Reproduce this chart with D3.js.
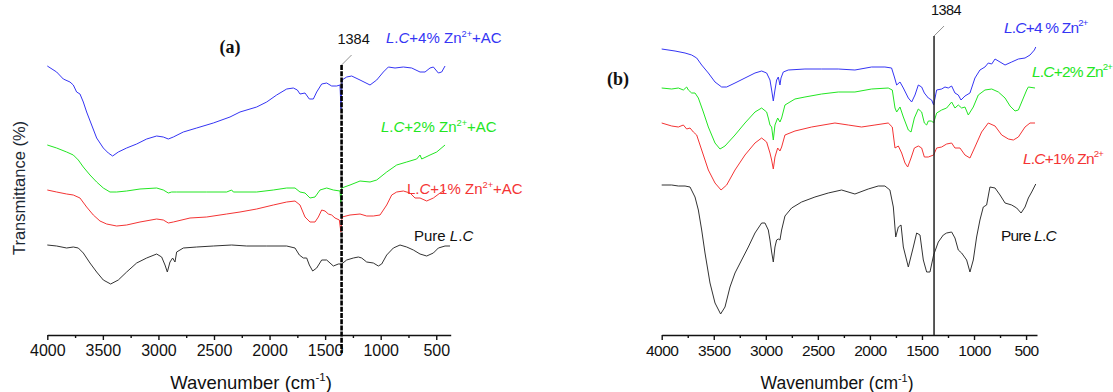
<!DOCTYPE html>
<html>
<head>
<meta charset="utf-8">
<script src="https://cdn.jsdelivr.net/npm/d3@7"></script>
<style>
  body { margin: 0; background: #fff; }
  svg { display: block; font-family: "Liberation Sans", Arial, sans-serif; }
</style>
</head>
<body>
<script>
// FTIR spectra, [wavenumber cm-1, transmittance (arbitrary, offset)]
// panel (a): with AC
const blueA = [[4000,269],[3916,263],[3856,256],[3796,253],[3766,250],[3736,243],[3706,241],[3676,233],[3646,223],[3601,210],[3556,197],[3496,187],[3451,182],[3412,179],[3361,183],[3286,187],[3196,191],[3106,196],[3016,199],[2956,198],[2911,196],[2866,198],[2776,203],[2656,207],[2506,212],[2356,218],[2266,223],[2116,228],[2026,233],[1936,240],[1846,246],[1786,247],[1750,245],[1726,241],[1681,242],[1642,236],[1606,236],[1576,243],[1531,251],[1486,252],[1441,249],[1396,249],[1366,250],[1357,226],[1348,255],[1306,258],[1261,259],[1186,255],[1096,250],[1036,255],[976,263],[931,268],[871,267],[796,268],[721,267],[646,263],[601,263],[556,267],[526,268],[481,262],[451,263],[421,269]];
const greenA = [[4000,190],[3916,187],[3826,183],[3766,180],[3721,175],[3676,168],[3616,160],[3556,153],[3496,147],[3436,143],[3376,143],[3286,144],[3166,146],[3016,147],[2956,145],[2911,142],[2881,143],[2836,143],[2716,143],[2566,143],[2386,143],[2341,145],[2326,143],[2266,143],[2116,143],[1966,145],[1846,147],[1771,147],[1726,143],[1681,142],[1636,137],[1591,138],[1546,145],[1486,147],[1426,145],[1366,144],[1358,132],[1351,147],[1276,150],[1186,154],[1096,153],[1036,155],[946,163],[856,170],[766,173],[676,176],[646,180],[631,176],[556,180],[496,183],[421,190]];
const redA = [[4000,145],[3916,143],[3826,141],[3766,140],[3706,137],[3646,128],[3586,120],[3526,114],[3466,111],[3376,109],[3286,110],[3166,113],[3016,116],[2956,115],[2911,112],[2866,113],[2716,117],[2566,118],[2386,121],[2266,123],[2116,126],[1966,130],[1846,133],[1771,134],[1726,130],[1681,118],[1636,113],[1591,113],[1561,118],[1531,125],[1501,124],[1471,121],[1441,120],[1411,117],[1372,115],[1358,103],[1348,118],[1276,120],[1186,121],[1126,119],[1066,119],[1006,120],[946,130],[901,140],[856,143],[796,144],[736,142],[691,137],[646,137],[586,134],[526,137],[466,142],[421,145]];
const blackA = [[4000,90],[3916,89],[3826,87],[3766,88],[3721,87],[3676,82],[3616,72],[3556,63],[3496,55],[3430,51],[3361,55],[3286,63],[3196,72],[3106,77],[3016,81],[2971,78],[2941,70],[2920,63],[2896,73],[2872,77],[2851,73],[2836,83],[2776,87],[2656,88],[2506,89],[2341,90],[2206,89],[2026,89],[1846,89],[1771,87],[1732,80],[1696,77],[1666,77],[1642,70],[1612,64],[1576,67],[1531,75],[1486,75],[1456,72],[1426,69],[1381,71],[1351,71],[1306,75],[1246,77],[1201,78],[1171,77],[1126,73],[1066,72],[1021,69],[991,71],[946,80],[886,87],[826,90],[766,88],[706,85],[646,81],[586,79],[526,82],[481,87],[421,89],[376,89]];

// panel (b): without AC
const blueB = [[4000,286],[3872,284],[3776,282],[3712,280],[3664,277],[3616,270],[3552,262],[3488,253],[3424,248],[3376,248],[3296,252],[3200,257],[3104,262],[3040,264],[2992,262],[2960,255],[2944,245],[2928,234],[2912,245],[2896,255],[2880,258],[2864,250],[2854,257],[2832,263],[2784,265],[2624,266],[2464,266],[2304,266],[2144,265],[1984,268],[1856,268],[1792,267],[1765,258],[1743,250],[1711,253],[1679,247],[1631,237],[1599,233],[1567,240],[1535,250],[1503,248],[1477,242],[1439,237],[1407,235],[1388,230],[1359,245],[1311,246],[1279,248],[1247,247],[1215,249],[1183,242],[1151,240],[1125,235],[1087,239],[1039,242],[991,257],[943,265],[895,268],[863,272],[830,271],[798,276],[750,273],[702,270],[638,273],[574,276],[510,277],[462,280],[420,285],[407,288]];
const greenB = [[4000,247],[3904,246],[3840,247],[3792,245],[3760,248],[3744,245],[3712,242],[3680,242],[3648,237],[3600,223],[3552,208],[3488,192],[3440,186],[3392,189],[3296,200],[3200,212],[3104,223],[3040,227],[2992,223],[2976,217],[2960,210],[2944,208],[2928,195],[2912,210],[2886,217],[2864,213],[2848,217],[2816,230],[2720,236],[2624,238],[2464,241],[2304,243],[2144,243],[1984,246],[1824,247],[1785,245],[1759,227],[1743,223],[1711,228],[1679,218],[1631,205],[1605,203],[1573,217],[1535,226],[1503,223],[1477,212],[1455,210],[1439,214],[1407,214],[1388,212],[1359,222],[1311,225],[1263,227],[1215,233],[1183,227],[1151,230],[1119,227],[1087,228],[1055,220],[1007,228],[959,240],[895,245],[830,246],[766,243],[702,237],[654,229],[606,224],[574,225],[542,233],[494,245],[478,248],[414,247]];
const redB = [[4000,212],[3904,209],[3840,208],[3792,210],[3760,206],[3728,207],[3696,203],[3664,200],[3616,185],[3552,165],[3488,152],[3430,145],[3376,150],[3296,165],[3200,180],[3104,192],[3040,197],[2992,193],[2960,182],[2944,175],[2928,166],[2912,178],[2886,187],[2864,184],[2848,188],[2816,200],[2720,204],[2560,208],[2336,212],[2208,210],[2080,208],[1952,210],[1824,212],[1785,208],[1759,187],[1727,189],[1695,182],[1663,172],[1637,168],[1605,177],[1573,187],[1535,189],[1503,187],[1477,178],[1439,178],[1388,180],[1359,187],[1311,188],[1263,191],[1215,192],[1183,187],[1135,187],[1087,180],[1039,177],[991,188],[927,203],[863,212],[798,209],[734,200],[670,196],[622,195],[574,198],[510,208],[462,212],[414,212]];
const blackB = [[4000,150],[3904,150],[3840,149],[3776,149],[3728,148],[3680,138],[3648,125],[3616,105],[3584,82],[3536,52],[3488,32],[3434,21],[3392,28],[3344,48],[3296,62],[3232,75],[3168,88],[3104,102],[3040,112],[3008,112],[2976,105],[2960,95],[2944,83],[2928,73],[2912,88],[2896,95],[2880,96],[2864,95],[2848,105],[2816,119],[2752,127],[2656,133],[2528,138],[2400,142],[2272,145],[2144,141],[2016,146],[1920,149],[1856,149],[1808,145],[1775,128],[1752,98],[1727,108],[1701,110],[1679,88],[1631,68],[1583,88],[1551,102],[1519,100],[1487,75],[1455,63],[1423,63],[1388,80],[1343,93],[1295,100],[1263,102],[1215,103],[1183,97],[1151,85],[1119,82],[1071,75],[1039,63],[1007,75],[975,98],[943,115],[911,128],[879,130],[847,148],[798,147],[750,140],[702,132],[638,130],[590,127],[548,122],[510,128],[478,137],[446,143],[407,151]];

const majorTicks = [4000, 3500, 3000, 2500, 2000, 1500, 1000, 500];
const minorTicks = [3750, 3250, 2750, 2250, 1750, 1250, 750];
const bandLabel = "1384";

const colors = { blue: "#3535f4", green: "#22e622", red: "#f43434", black: "#333" };

const W = 1113, H = 392;
const svg = d3.select("body").append("svg").attr("width", W).attr("height", H);

// writes a label made of [text, style] pieces; style: i = italic, s = superscript
function richText(g, x, y, parts, size, fill) {
	const t = g.append("text").attr("x", x).attr("y", y)
		.attr("font-size", size).attr("fill", fill);
	let up = false;
	parts.forEach(([s, st]) => {
		const ts = t.append("tspan").text(s);
		if (st === "i") ts.attr("font-style", "italic");
		if (st === "s") {
			ts.attr("font-size", size * 0.62).attr("dy", -size * 0.42);
			up = true;
		} else if (up) {
			ts.attr("dy", size * 0.42);
			up = false;
		}
	});
	return t;
}

function drawPanel(p) {
	const x = d3.scaleLinear().domain(p.xDomain).range(p.xRange);
	const y = d3.scaleLinear().domain([0, 300]).range([335, 35]);
	const g = svg.append("g");

	const line = d3.line().x(d => x(d[0])).y(d => y(d[1]));
	p.series.forEach(s => {
		g.append("path").datum(s.data)
			.attr("fill", "none")
			.attr("stroke", s.color)
			.attr("stroke-width", 1)
			.attr("stroke-linejoin", "round")
			.attr("d", line);
	});

	// axis
	const ax = g.append("g").attr("transform", "translate(0,335)")
		.call(d3.axisBottom(x).tickValues(majorTicks).tickFormat(d3.format("d"))
			.tickSize(5).tickSizeOuter(0).tickPadding(5));
	ax.select(".domain").attr("stroke", "#111").attr("stroke-width", 1.6);
	ax.selectAll(".tick line").attr("stroke", "#111").attr("stroke-width", 1.4);
	ax.selectAll(".tick text").attr("font-size", p.tickSize).attr("fill", "#111")
		.attr("font-family", "'Liberation Sans', Arial, sans-serif")
		.attr("letter-spacing", p.tickSpacing);
	const mx = g.append("g").attr("transform", "translate(0,335)")
		.call(d3.axisBottom(x).tickValues(minorTicks).tickSize(3).tickFormat(""));
	mx.select(".domain").remove();
	mx.selectAll(".tick line").attr("stroke", "#111").attr("stroke-width", 1.4);

	// x label
	richText(g, p.xLabelX, 389, [["Wavenumber (cm", ""], ["-1", "s"], [")", ""]], p.xLabelSize, "#111")
		.attr("text-anchor", "middle");

	// 1384 marker
	const mX = x(p.marker);
	g.append("line").attr("x1", mX).attr("x2", mX)
		.attr("y1", p.markTop).attr("y2", p.markBottom)
		.attr("stroke", p.markColor).attr("stroke-width", p.markWidth)
		.attr("stroke-dasharray", p.markDash);
	g.append("line").attr("x1", mX).attr("y1", p.markTop)
		.attr("x2", mX + 10).attr("y2", p.markTop - 10)
		.attr("stroke", "#777").attr("stroke-width", 0.8);
	g.append("text").attr("x", mX + 12).attr("y", p.markTop - 21)
		.attr("text-anchor", "middle").attr("font-size", 14.5).attr("fill", "#111")
		.attr("letter-spacing", p.tickSpacing)
		.text(bandLabel);

	// panel letter
	g.append("text").attr("x", p.letterX).attr("y", p.letterY)
		.attr("text-anchor", "middle")
		.attr("font-family", "'Liberation Serif', 'Times New Roman', serif")
		.attr("font-weight", "bold").attr("font-size", 18).attr("fill", "#111")
		.text(p.letter);

	p.labels.forEach(l => {
		const t = richText(g, l.x, l.y, l.parts, p.labelSize, l.color);
		if (p.labelSpacing) t.attr("letter-spacing", p.labelSpacing);
	});
}

drawPanel({
	xDomain: [4000, 370], xRange: [47.3, 450.7],
	series: [
		{ data: blueA, color: colors.blue },
		{ data: greenA, color: colors.green },
		{ data: redA, color: colors.red },
		{ data: blackA, color: colors.black }
	],
	tickSize: 16, tickSpacing: 0,
	xLabelX: 251, xLabelSize: 18.5,
	marker: 1352, markTop: 65, markBottom: 353,
	markColor: "#000", markWidth: 2.6, markDash: "5,1.2",
	letter: "(a)", letterX: 230, letterY: 53,
	labelSize: 15, labelSpacing: 0,
	labels: [
		{ x: 386, y: 43, color: colors.blue, parts: [["L", "i"], [".", ""], ["C", "i"], ["+4% Zn", ""], ["2+", "s"], ["+AC", ""]] },
		{ x: 381, y: 132, color: colors.green, parts: [["L", "i"], [".", ""], ["C", "i"], ["+2% Zn", ""], ["2+", "s"], ["+AC", ""]] },
		{ x: 407, y: 194, color: colors.red, parts: [["L.", ""], ["C", "i"], ["+1% Zn", ""], ["2+", "s"], ["+AC", ""]] },
		{ x: 414, y: 241, color: "#111", parts: [["Pure ", ""], ["L", "i"], [".", ""], ["C", "i"]] }
	]
});

drawPanel({
	xDomain: [4000, 395], xRange: [661.7, 1037],
	series: [
		{ data: blueB, color: colors.blue },
		{ data: greenB, color: colors.green },
		{ data: redB, color: colors.red },
		{ data: blackB, color: colors.black }
	],
	tickSize: 15.5, tickSpacing: -0.5,
	xLabelX: 837, xLabelSize: 17.5,
	marker: 1384, markTop: 36, markBottom: 335,
	markColor: "#222", markWidth: 1.5, markDash: null,
	letter: "(b)", letterX: 618, letterY: 85,
	labelSize: 15.5, labelSpacing: -0.8,
	labels: [
		{ x: 1004, y: 33, color: colors.blue, parts: [["L", "i"], [".", ""], ["C", "i"], ["+4 % Zn", ""], ["2+", "s"]] },
		{ x: 1032, y: 77, color: colors.green, parts: [["L", "i"], [".", ""], ["C", "i"], ["+2% Zn", ""], ["2+", "s"]] },
		{ x: 1023, y: 164, color: colors.red, parts: [["L", "i"], [".", ""], ["C", "i"], ["+1% Zn", ""], ["2+", "s"]] },
		{ x: 1001, y: 241, color: "#111", parts: [["Pure ", ""], ["L", "i"], [".", ""], ["C", "i"]] }
	]
});

// y label, panel (a) only
svg.append("text")
	.attr("transform", "translate(25,188) rotate(-90)")
	.attr("text-anchor", "middle")
	.attr("font-size", 16.5).attr("fill", "#1c2833")
	.text("Transmittance (%)");
</script>
</body>
</html>
